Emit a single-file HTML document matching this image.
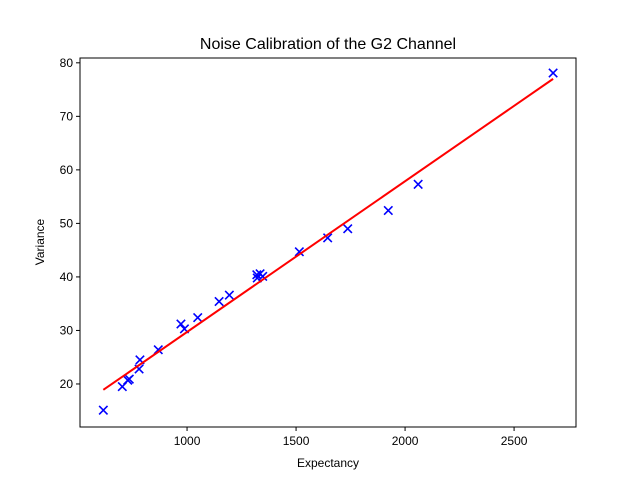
<!DOCTYPE html>
<html><head><meta charset="utf-8"><style>body{margin:0;background:#fff}svg{display:block;font-family:"Liberation Sans","DejaVu Sans",sans-serif}</style></head>
<body>
<svg id="c" width="640" height="480"></svg>
<script>
const xs=[616,703,728,735,784,780,868,972,988,1049,1147,1194,1320,1322,1347,1335,1515,1645,1737,1923,2060,2679];
const ys=[15.1,19.5,20.7,20.9,24.5,22.8,26.4,31.2,30.3,32.4,35.4,36.6,40.4,39.8,40.1,40.6,44.7,47.3,49.0,52.4,57.3,78.1];
const fitX=[616,2679];
const fitY=[18.9,77.0];
const xTicks=[1000,1500,2000,2500];
const yTicks=[20,30,40,50,60,70,80];
const L=80,R=576,T=58,B=427,x0=509,x1=2784,y0=11.96,y1=80.9;
const sx=v=>L+(v-x0)/(x1-x0)*(R-L), sy=v=>B-(v-y0)/(y1-y0)*(B-T);
const svg=document.getElementById('c'),NS='http://www.w3.org/2000/svg';
function mk(t,a,p){const e=document.createElementNS(NS,t);for(const k in a)e.setAttribute(k,a[k]);(p||svg).appendChild(e);return e;}
let e=mk('text',{x:328,y:49,'text-anchor':'middle','font-size':16});e.textContent='Noise Calibration of the G2 Channel';


xTicks.forEach(v=>{const x=sx(v);let l=mk('line',{x1:x,x2:x,y1:B,y2:B+4,stroke:'#000'});


let t=mk('text',{x:x,y:B+18,'text-anchor':'middle','font-size':12});t.textContent=v;

});
yTicks.forEach(v=>{const y=sy(v);let l=mk('line',{x1:L-4,x2:L,y1:y,y2:y,stroke:'#000'});


let t=mk('text',{x:L-7,y:y+4,'text-anchor':'end','font-size':12});t.textContent=v;

});
e=mk('text',{x:328,y:467,'text-anchor':'middle','font-size':12});e.textContent='Expectancy';


e=mk('text',{x:44,y:242,'text-anchor':'middle','font-size':12,transform:'rotate(-90 44 242)'});e.textContent='Variance';


const g=mk('g',{stroke:'#0000ff','stroke-width':1.6});


xs.forEach((v,i)=>{const x=sx(v),y=sy(ys[i]);const p=mk('path',{d:`M${x-4.2},${y-4.2}L${x+4.2},${y+4.2}M${x-4.2},${y+4.2}L${x+4.2},${y-4.2}`},g);

});
e=mk('line',{x1:sx(fitX[0]),y1:sy(fitY[0]),x2:sx(fitX[1]),y2:sy(fitY[1]),stroke:'#ff0000','stroke-width':2});


e=mk('rect',{x:L,y:T,width:R-L,height:B-T,fill:'none',stroke:'#000','stroke-width':1});


</script>
</body></html>
